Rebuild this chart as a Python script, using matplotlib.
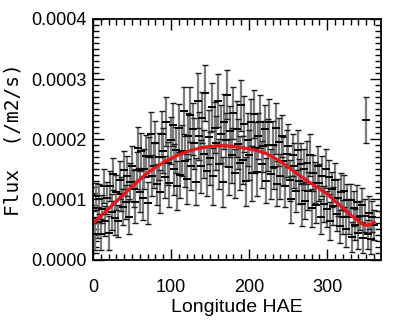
import numpy as np
import matplotlib.pyplot as plt
from matplotlib.ticker import MultipleLocator

# longitude of each sample (deg), flux and 1-sigma error (in 1e-6 /m2/s)
lon = np.arange(0, 361, 2)
flux = [85, 42, 105, 62, 100, 42, 84, 122, 64, 102,
        44, 122, 79, 142, 69, 112, 64, 132, 109, 87,
        149, 96, 139, 71, 129, 156, 118, 96, 148, 186,
        113, 180, 102, 150, 172, 94, 171, 208, 139, 156,
        193, 125, 171, 113, 209, 181, 137, 229, 160, 127,
        198, 224, 150, 182, 123, 219, 140, 181, 247, 163,
        134, 205, 241, 156, 217, 193, 129, 264, 205, 155,
        236, 176, 277, 147, 203, 168, 253, 138, 219, 194,
        264, 159, 209, 129, 229, 199, 274, 154, 213, 173,
        243, 143, 217, 192, 161, 256, 166, 225, 130, 199,
        174, 228, 143, 242, 186, 146, 205, 229, 158, 188,
        217, 131, 190, 228, 142, 191, 154, 218, 126, 195,
        138, 206, 164, 123, 176, 189, 132, 100, 173, 156,
        114, 182, 130, 159, 92, 150, 98, 161, 114, 173,
        86, 144, 128, 91, 155, 128, 71, 139, 92, 151,
        84, 137, 64, 117, 89, 132, 75, 103, 55, 113,
        71, 114, 51, 99, 71, 99, 37, 85, 58, 96,
        44, 73, 91, 35, 73, 232, 42, 78, 34, 71,
        57]
err = [24, 27, 22, 26, 25, 26, 23, 28, 25, 27,
       28, 25, 30, 26, 29, 29, 27, 31, 28, 30,
       31, 28, 33, 29, 32, 32, 30, 35, 31, 34,
       34, 31, 36, 33, 35, 35, 33, 38, 34, 37,
       37, 34, 39, 35, 38, 38, 35, 41, 36, 40,
       39, 36, 42, 38, 41, 40, 37, 43, 39, 42,
       41, 38, 45, 40, 43, 42, 39, 46, 40, 44,
       43, 40, 47, 41, 45, 44, 40, 48, 42, 45,
       44, 41, 48, 42, 46, 44, 41, 47, 42, 45,
       43, 40, 47, 41, 45, 43, 40, 46, 41, 44,
       42, 39, 45, 40, 43, 41, 38, 44, 39, 42,
       40, 37, 43, 38, 41, 39, 36, 42, 37, 40,
       38, 35, 40, 36, 39, 36, 34, 39, 35, 37,
       35, 33, 37, 34, 36, 34, 31, 36, 32, 35,
       32, 30, 34, 31, 33, 31, 29, 33, 30, 32,
       30, 28, 32, 29, 31, 29, 27, 31, 28, 30,
       28, 26, 30, 27, 29, 27, 25, 29, 26, 28,
       26, 24, 28, 25, 27, 38, 24, 27, 25, 26,
       25]

# fitted curve
fit_lon = [0, 10, 20, 30, 40, 50, 60, 70, 80, 90, 100, 110, 120, 130, 140,
           150, 160, 170, 180, 190, 200, 210, 220, 230, 240, 250, 260, 270,
           280, 290, 300, 310, 320, 330, 340, 345, 350, 355, 360]
fit_flux = [60, 72, 84, 97, 109, 121, 133, 144, 153, 161, 168, 174, 179, 183,
            186, 188, 189, 189, 188, 186, 184, 181, 177, 171, 163, 154, 144,
            135, 126, 118, 109, 97, 86, 74, 64, 59, 57, 58, 62]

yticks = [0.0, 0.0001, 0.0002, 0.0003, 0.0004]

flux = np.array(flux) * 1e-6
err = np.array(err) * 1e-6
fit_flux = np.array(fit_flux) * 1e-6

tickfont = ['Liberation Sans', 'DejaVu Sans']

fig = plt.figure(figsize=(3.99, 3.31), dpi=100)
ax = fig.add_axes([0.233, 0.216, 0.722, 0.727])

ax.errorbar(lon, flux, yerr=err, fmt='none', ecolor='#7d7d7d',
            elinewidth=1.6, capsize=0)
# black caps and centre marks
for y in (flux + err, flux - err):
    ax.plot(lon, y, '_', color='#1a1a1a', ms=4.5, mew=1.0)
ax.plot(lon, flux, '_', color='black', ms=5.5, mew=1.4)
ax.plot(fit_lon, fit_flux, color='#e8141c', lw=2.3)

ax.set_xlim(0, 369)
ax.set_ylim(0, 0.0004)
ax.xaxis.set_major_locator(MultipleLocator(100))
ax.xaxis.set_minor_locator(MultipleLocator(10))
ax.set_yticks(yticks)
ax.set_yticklabels(['%.4f' % v for v in yticks])
ax.yaxis.set_minor_locator(MultipleLocator(0.00001))
ax.set_ylim(0, 0.0004)
ax.tick_params(which='both', direction='in', top=True, right=True, width=1)
ax.tick_params(which='major', length=8, labelsize=13)
ax.tick_params(axis='y', pad=4.5)
ax.tick_params(axis='x', pad=14)
ax.tick_params(which='minor', length=4)
for lab in ax.get_xticklabels() + ax.get_yticklabels():
    lab.set_family(tickfont)
for s in ax.spines.values():
    s.set_linewidth(1.3)

ax.set_xlabel('Longitude HAE', family=tickfont, fontsize=14, labelpad=2)
ax.set_ylabel('Flux  (/m2/s)', family='DejaVu Sans Mono', fontsize=14)
ax.yaxis.set_label_coords(-0.243, 0.5)

fig.savefig('out.png', dpi=100)
